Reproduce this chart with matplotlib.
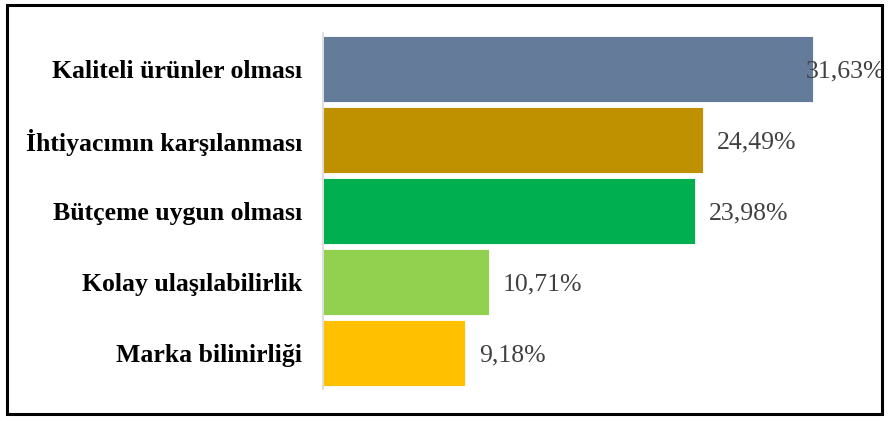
import matplotlib
matplotlib.use("Agg")
import matplotlib.pyplot as plt
from matplotlib.patches import Rectangle
from matplotlib.transforms import blended_transform_factory

categories = ["Kaliteli ürünler olması", "İhtiyacımın karşılanması", "Bütçeme uygun olması",
              "Kolay ulaşılabilirlik", "Marka bilinirliği"]
values = [31.63, 24.49, 23.98, 10.71, 9.18]
value_labels = ["31,63%", "24,49%", "23,98%", "10,71%", "9,18%"]
colors = ["#647b99", "#bf9000", "#00b050", "#92d050", "#ffc000"]

plt.rcParams['font.family'] = ['Liberation Serif', 'DejaVu Serif']

fig = plt.figure(figsize=(8.88, 4.21), dpi=100)
ax = fig.add_axes([323 / 888, 32 / 421, 507 / 888, 356 / 421])

pos = list(range(len(categories)))
ax.barh(pos, values, height=0.93, color=colors, edgecolor="white", linewidth=0.6)
ax.set_ylim(4.507, -0.507)
ax.set_xlim(0, 507 / 15.5)

ax.set_yticks(pos)
ax.set_yticklabels(categories, fontsize=18.5, fontweight="bold", color="black")
ax.tick_params(axis="y", length=0, pad=15)
ax.set_xticks([])
for s in ["top", "right", "bottom"]:
    ax.spines[s].set_visible(False)
ax.spines["left"].set_color("#d9d9d9")
ax.spines["left"].set_linewidth(1.2)

# value labels, the first one does not fit so it sits against the right edge
trans = blended_transform_factory(fig.transFigure, ax.transData)
for i, (v, lab) in enumerate(zip(values, value_labels)):
    if i == 0:
        ax.text(885 / 888, i + 0.03, lab, transform=trans, ha="right", va="center",
                fontsize=18.5, color="#404040", clip_on=False)
    else:
        ax.annotate(lab, (v, i + 0.03), xytext=(10, 0), textcoords="offset points",
                    ha="left", va="center", fontsize=18.5, color="#404040")

# black frame round the picture
fig.patches.append(Rectangle((7 / 888, 7 / 421), 875 / 888, 409 / 421, transform=fig.transFigure,
                             fill=False, edgecolor="black", linewidth=2.2))

fig.savefig("out.png", dpi=100)
